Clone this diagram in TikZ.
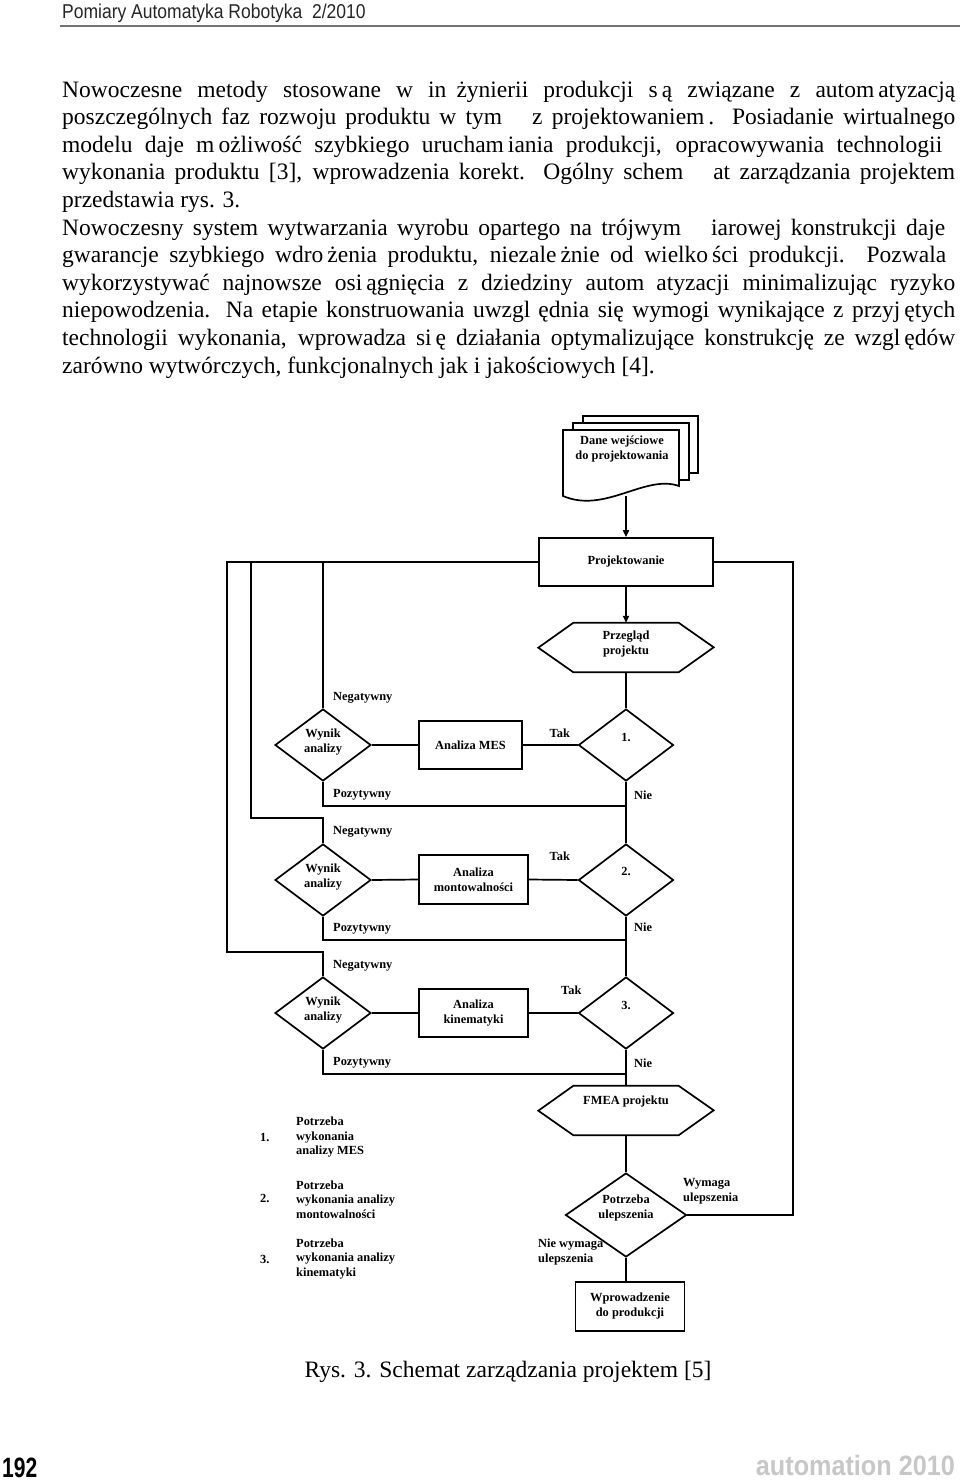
\documentclass[tikz,border=0pt]{standalone}
\usepackage{fontspec}
\setmainfont{Liberation Serif}
\setsansfont{Liberation Sans}
\usetikzlibrary{shapes.geometric,arrows.meta}
\begin{document}
\begin{tikzpicture}[x=1pt,y=-1pt,
  ln/.style={line width=1.7pt, draw=black},
  arr/.style={ln,-{Triangle[length=7pt,width=6pt]}},
  dtext/.style={font=\fontsize{12.4}{15}\selectfont\bfseries, align=center, inner sep=0pt},
  boxn/.style={ln, rectangle, inner sep=0pt, dtext},
  dia/.style={ln, diamond, inner sep=0pt},
  hexn/.style={draw=none, rectangle, inner sep=0pt, minimum width=105pt, minimum height=49pt},
  lab/.style={font=\fontsize{12.4}{15}\selectfont\bfseries, anchor=west, inner sep=0pt, align=left},
  leg/.style={font=\fontsize{12.4}{14.5}\selectfont\bfseries, anchor=west, inner sep=0pt, align=left},
  body/.style={font=\fontsize{23.5}{27.6}\selectfont, anchor=base west, inner sep=0pt},
]
\useasboundingbox (0,0) rectangle (960,1480);
\fill[white] (0,0) rectangle (960,1480);

% header
\node[anchor=base west, inner sep=0pt, font=\sffamily\fontsize{20}{22}\selectfont, text=black!85, xscale=0.875] (hdr) at (62,19) {Pomiary Automatyka Robotyka\ \ 2/2010};
\coordinate (rl) at (60,26); \coordinate (rr) at (960,26);
\draw[line width=1.5pt, black!55] (rl) -- (rr);

% body text
\node[body] (t1) at (62,97) {\makebox[893pt][s]{Nowoczesne metody stosowane w in\hspace{10pt}żynierii produkcji s\hspace{4pt}ą związane z autom\hspace{4pt}atyzacją}};
\node[body] (t2) at (62,124.6) {\makebox[893pt][s]{poszczególnych faz rozwoju produktu w tym\hspace{30pt}z projektowaniem\hspace{4pt}. Posiadanie wirtualnego}};
\node[body] (t3) at (62,152.2) {\makebox[880pt][s]{modelu daje m\hspace{4pt}ożliwość szybkiego urucham\hspace{4pt}iania produkcji, opracowywania technologii}};
\node[body] (t4) at (62,179.8) {\makebox[893pt][s]{wykonania produktu [3], wprowadzenia korekt. Ogólny schem\hspace{30pt}at zarządzania projektem}};
\node[body] (t5) at (62,207.4) {przedstawia rys. 3.};
\node[body] (t6) at (62,235) {\makebox[883pt][s]{Nowoczesny system wytwarzania wyrobu opartego na trójwym\hspace{30pt}iarowej konstrukcji daje}};
\node[body] (t7) at (62,262.6) {\makebox[884pt][s]{gwarancje szybkiego wdro\hspace{4pt}żenia produktu, niezale\hspace{4pt}żnie od wielko\hspace{4pt}ści produkcji. Pozwala}};
\node[body] (t8) at (62,290.2) {\makebox[893pt][s]{wykorzystywać najnowsze osi\hspace{4pt}ągnięcia z dziedziny autom\hspace{12pt}atyzacji minimalizując ryzyko}};
\node[body] (t9) at (62,317.8) {\makebox[893pt][s]{niepowodzenia. Na etapie konstruowania uwzgl\hspace{8pt}ędnia się wymogi wynikające z przyj\hspace{4pt}ętych}};
\node[body] (t10) at (62,345.4) {\makebox[893pt][s]{technologii wykonania, wprowadza si\hspace{4pt}ę działania optymalizujące konstrukcję ze wzgl\hspace{4pt}ędów}};
\node[body] (t11) at (62,373) {zarówno wytwórczych, funkcjonalnych jak i jakościowych [4].};

% document stack
\draw[ln, fill=white] (583,416) rectangle (698,473);
\draw[ln, fill=white] (573,423) rectangle (689,480);
\draw[ln, fill=white] (563,430) -- (679,430) -- (679,486) .. controls (645,474) and (605,514) .. (563,496) -- cycle;
\node[dtext] (doc) at (622,449.5) {Dane wejściowe\\do projektowania};
\coordinate (docb) at (626,496);

% main column
\node[boxn, minimum width=174pt, minimum height=48pt] (proj) at (626,562) {Projektowanie};
\node[hexn] (hex1) at (626,647.5) {};
\node[dtext] (hex1t) at (626,644.5) {Przegląd\\projektu};
\draw[ln] (hex1.north west) -- (hex1.north east) -- ++(35,24.5) -- (hex1.south east) -- (hex1.south west) -- ++(-35,-24.5) -- cycle;

\node[dia, minimum width=95pt, minimum height=72pt] (d1) at (626,745) {};
\node[dtext] (d1t) at (626,737) {1.};
\node[dia, minimum width=95pt, minimum height=72pt] (d2) at (626,880) {};
\node[dtext] (d2t) at (626,871) {2.};
\node[dia, minimum width=95pt, minimum height=72pt] (d3) at (626,1013) {};
\node[dtext] (d3t) at (626,1005) {3.};

\node[boxn, minimum width=103pt, minimum height=48pt] (mes) at (470.5,745) {Analiza MES};
\node[boxn, minimum width=109pt, minimum height=49pt] (mont) at (473.5,879.5) {Analiza\\montowalności};
\node[boxn, minimum width=109pt, minimum height=48pt] (kin) at (473.5,1013) {Analiza\\kinematyki};

\node[dia, minimum width=96pt, minimum height=72pt] (w1) at (323,745) {};
\node[dtext] (w1t) at (323,742.5) {Wynik\\analizy};
\node[dia, minimum width=96pt, minimum height=72pt] (w2) at (323,880) {};
\node[dtext] (w2t) at (323,877) {Wynik\\analizy};
\node[dia, minimum width=96pt, minimum height=72pt] (w3) at (323,1013) {};
\node[dtext] (w3t) at (323,1010.5) {Wynik\\analizy};

\node[hexn] (hex2) at (626,1110.5) {};
\node[dtext] (hex2t) at (626,1102) {FMEA projektu};
\draw[ln] (hex2.north west) -- (hex2.north east) -- ++(35,24.5) -- (hex2.south east) -- (hex2.south west) -- ++(-35,-24.5) -- cycle;

\node[dia, minimum width=121pt, minimum height=84pt] (pu) at (626,1215) {};
\node[dtext] (put) at (626,1208.5) {Potrzeba\\ulepszenia};
\node[boxn, minimum width=109pt, minimum height=49pt] (prod) at (630,1306.5) {Wprowadzenie\\do produkcji};

% junction coordinates
\coordinate (tl) at (227,562);
\coordinate (tm) at (251,562);
\coordinate (rt) at (793,562);
\coordinate (j1) at (626,806);
\coordinate (j2) at (626,940);
\coordinate (j3) at (626,1074);

% connectors
\draw[arr] (docb) -- (proj.north);
\draw[arr] (proj.south) -- (hex1.north);
\draw[ln] (hex1.south) -- (d1.north);
\draw[ln] (d1.south) -- (d2.north);
\draw[ln] (d2.south) -- (d3.north);
\draw[ln] (d3.south) -- (hex2.north);
\draw[ln] (hex2.south) -- (pu.north);
\draw[ln] (pu.south) -- (pu.south |- prod.north);

\draw[ln] (d1.west) -- (mes.east);
\draw[ln] (mes.west) -- (w1.east);
\draw[ln] (d2.west) -- (mont.east);
\draw[ln] (mont.west) -- (w2.east);
\draw[ln] (d3.west) -- (kin.east);
\draw[ln] (kin.west) -- (w3.east);

\draw[ln] (w1.south) |- (j1);
\draw[ln] (w2.south) |- (j2);
\draw[ln] (w3.south) |- (j3);

\draw[ln] (proj.west) -- (tl) -- (227,952) -| (w3.north);
\draw[ln] (tm) -- (251,818) -| (w2.north);
\draw[ln] (w1.north) -- (w1.north |- proj.west);
\draw[ln] (pu.east) -| (rt) -- (proj.east);

% labels
\node[lab] (n1) at (333,698) {Negatywny};
\node[lab] (p1) at (333,795) {Pozytywny};
\node[lab] (n2) at (333,832) {Negatywny};
\node[lab] (p2) at (333,929) {Pozytywny};
\node[lab] (n3) at (333,966) {Negatywny};
\node[lab] (p3) at (333,1063) {Pozytywny};
\node[lab] (k1) at (549.5,733) {Tak};
\node[lab] (k2) at (549.5,856) {Tak};
\node[lab] (k3) at (561,990) {Tak};
\node[lab] (e1) at (634,795) {Nie};
\node[lab] (e2) at (634,927) {Nie};
\node[lab] (e3) at (634,1063) {Nie};
\node[lab] (wu) at (683,1191) {Wymaga\\ulepszenia};
\node[lab] (nwu) at (538,1252) {Nie wymaga\\ulepszenia};

% legend
\node[lab] (l1n) at (260,1137) {1.};
\node[leg] (l1) at (296,1137.5) {Potrzeba\\wykonania\\analizy MES};
\node[lab] (l2n) at (260,1198) {2.};
\node[leg] (l2) at (296,1199.5) {Potrzeba\\wykonania analizy\\montowalności};
\node[lab] (l3n) at (260,1259) {3.};
\node[leg] (l3) at (296,1259) {Potrzeba\\wykonania analizy\\kinematyki};

% caption
\node[anchor=base, inner sep=0pt, font=\fontsize{23.5}{27}\selectfont] (cap) at (508,1377) {Rys. 3. Schemat zarządzania projektem [5]};

% footer
\node[anchor=base west, inner sep=0pt, font=\sffamily\bfseries\fontsize{28}{30}\selectfont, xscale=0.75] (pg) at (2,1477) {192};
\node[anchor=base east, inner sep=0pt, font=\sffamily\bfseries\fontsize{28}{30}\selectfont, text=black!22, xscale=0.9] (jn) at (955,1475) {automation 2010};
\end{tikzpicture}
\end{document}
